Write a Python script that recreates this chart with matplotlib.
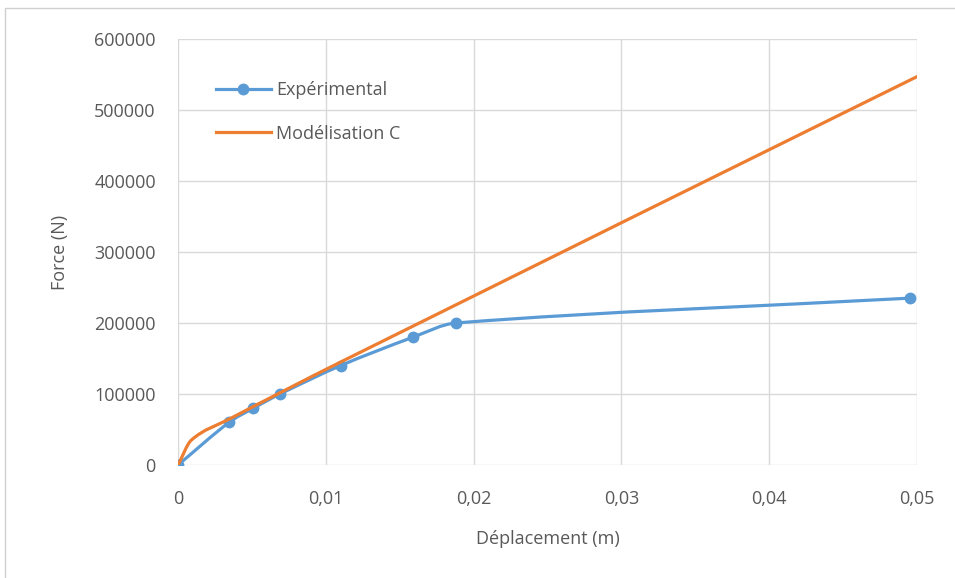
import numpy as np
import matplotlib
matplotlib.use("Agg")
import matplotlib.pyplot as plt
from matplotlib.path import Path
from matplotlib.patches import PathPatch, Rectangle
from matplotlib.lines import Line2D
from matplotlib.ticker import FuncFormatter

plt.rcParams['font.family'] = ['Open Sans', 'DejaVu Sans']

# Données
exp_x = [0, 0.00345, 0.0051, 0.0069, 0.011, 0.0159, 0.0188, 0.0495]
exp_y = [0, 60000, 80000, 100000, 140000, 180000, 200000, 235000]
mod_x = [0, 0.0009, 0.0035, 0.011, 0.05]
mod_y = [0, 35000, 65000, 145000, 547000]
x_ticks = [0, 0.01, 0.02, 0.03, 0.04, 0.05]
y_ticks = [0, 100000, 200000, 300000, 400000, 500000, 600000]

BLUE = "#5B9BD5"
ORANGE = "#ED7D31"
TXT = "#595959"
GRID = "#D9D9D9"
FS = 13


def smooth_path(xs, ys):
    # ligne lissée (Hermite en x -> Bézier), pas de retour en arrière en x
    x = np.asarray(xs, float)
    y = np.asarray(ys, float)
    n = len(x)
    slope = np.empty(n)
    for i in range(n):
        a = max(i - 1, 0)
        b = min(i + 1, n - 1)
        slope[i] = (y[b] - y[a]) / (x[b] - x[a])
    verts = [(x[0], y[0])]
    codes = [Path.MOVETO]
    for i in range(n - 1):
        h = (x[i + 1] - x[i]) / 3
        verts += [(x[i] + h, y[i] + slope[i] * h),
                  (x[i + 1] - h, y[i + 1] - slope[i + 1] * h),
                  (x[i + 1], y[i + 1])]
        codes += [Path.CURVE4] * 3
    return Path(verts, codes)


fig = plt.figure(figsize=(9.55, 5.78), dpi=100)
ax = fig.add_axes([0.1864, 0.1955, 0.7738, 0.737])

ax.add_patch(PathPatch(smooth_path(exp_x, exp_y), fill=False, ec=BLUE, lw=2.3,
                       zorder=3, capstyle="round"))
ax.plot(exp_x, exp_y, ls="none", marker="o", ms=7.5, color=BLUE, zorder=4)
ax.add_patch(PathPatch(smooth_path(mod_x, mod_y), fill=False, ec=ORANGE, lw=2.3,
                       zorder=5, capstyle="round"))

ax.set_xlim(0, 0.05)
ax.set_ylim(0, 600000)
ax.set_xticks(x_ticks)
ax.set_yticks(y_ticks)
ax.xaxis.set_major_formatter(FuncFormatter(lambda v, p: "0" if v == 0 else f"{v:.2f}".replace(".", ",")))
ax.yaxis.set_major_formatter(FuncFormatter(lambda v, p: f"{int(round(v))}"))
ax.grid(True, color=GRID, lw=1)
ax.set_axisbelow(True)
for s in ax.spines.values():
    s.set_visible(False)
ax.tick_params(length=0, colors=TXT, labelsize=FS)
ax.tick_params(axis="x", pad=18)
ax.tick_params(axis="y", pad=16)
ax.set_xlabel("Déplacement (m)", color=TXT, fontsize=FS, labelpad=16)
ax.set_ylabel("Force (N)", color=TXT, fontsize=FS, labelpad=18)

handles = [Line2D([], [], color=BLUE, lw=2.3, marker="o", ms=7.5),
           Line2D([], [], color=ORANGE, lw=2.3)]
ax.legend(handles, ["Expérimental", "Modélisation C"], loc="upper left",
          bbox_to_anchor=(0.041, 0.918), frameon=False, fontsize=FS,
          labelcolor=TXT, handlelength=3.05, handletextpad=0.3, labelspacing=1.42,
          borderaxespad=0)

fig.patches.append(Rectangle((5 / 955, -0.1), 2, 1.1 - 8 / 578, transform=fig.transFigure,
                             fill=False, ec="#D0D0D0", lw=1))

fig.savefig("out.png", dpi=100)
